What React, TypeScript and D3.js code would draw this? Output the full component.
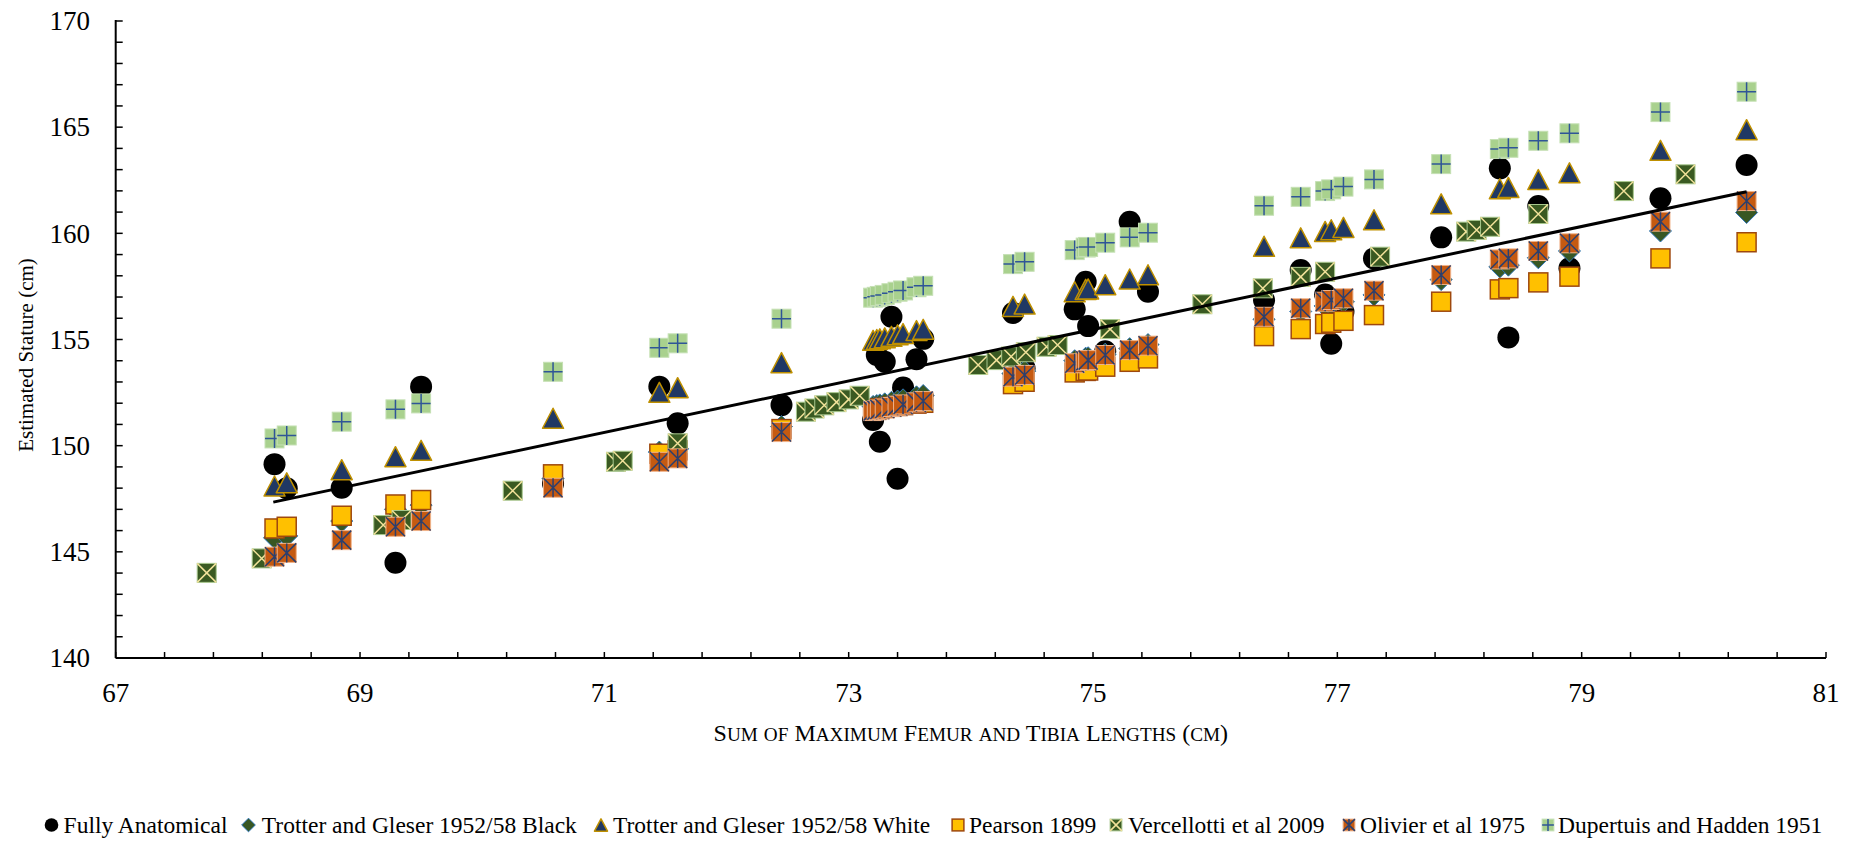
import React from 'react';
import * as d3 from 'd3';

// ---------- DATA ----------
// Sum of maximum femur and tibia lengths (cm) for each individual
const individualSum = [
  68.30, 68.40, 68.85, 69.29, 69.50, 70.58, 71.45, 71.60, 72.45,
  73.20, 73.23, 73.255, 73.295, 73.35, 73.40, 73.445, 73.555, 73.61,
  74.345, 74.44, 74.85, 74.94, 74.96, 75.10, 75.30, 75.45,
  76.40, 76.70, 76.90, 76.95, 77.05, 77.30, 77.85, 78.33, 78.40, 78.645, 78.90, 79.645, 80.35,
];
const fullyAnatomical = [
  149.13, 147.99, 148.02, 144.49, 152.78, 148.21, 152.78, 151.05, 151.91,
  151.21, 154.27, 150.18, 153.95, 156.07, 148.44, 152.74, 154.07, 155.03,
  156.25, 153.64, 156.42, 157.72, 155.63, 154.45, 160.55, 157.25,
  156.85, 158.27, 157.12, 154.80, 156.31, 158.82, 159.81, 163.06, 155.10, 161.29, 158.35, 161.65, 163.22,
];
const trotterBlack = [
  145.66, 145.75, 146.45, 147.00, 147.20, 148.45, 149.70, 149.85, 150.90,
  151.85, 151.89, 151.92, 151.97, 152.04, 152.10, 152.16, 152.30, 152.36,
  153.40, 153.50, 154.00, 154.12, 154.14, 154.31, 154.57, 154.76,
  155.95, 156.32, 156.58, 156.64, 156.78, 157.10, 157.82, 158.42, 158.50, 158.85, 159.17, 160.11, 160.98,
];
const trotterWhite = [
  148.10, 148.25, 148.87, 149.48, 149.78, 151.29, 152.51, 152.73, 153.91,
  154.96, 155.00, 155.03, 155.08, 155.15, 155.22, 155.28, 155.42, 155.48,
  156.56, 156.67, 157.25, 157.36, 157.38, 157.58, 157.85, 158.05,
  159.39, 159.79, 160.09, 160.17, 160.28, 160.64, 161.39, 162.10, 162.16, 162.53, 162.85, 163.91, 164.88,
];
const pearson = [
  146.10, 146.18, 146.70, 147.23, 147.44, 148.65, 149.62, 149.78, 150.78,
  151.70, 151.73, 151.75, 151.78, 151.83, 151.87, 151.91, 151.98, 152.02,
  152.90, 153.01, 153.45, 153.52, 153.54, 153.72, 153.95, 154.11,
  155.16, 155.49, 155.73, 155.79, 155.88, 156.15, 156.78, 157.36, 157.42, 157.69, 157.96, 158.82, 159.58,
];
const olivier = [
  144.77, 144.95, 145.55, 146.18, 146.45, 148.02, 149.24, 149.40, 150.64,
  151.63, 151.67, 151.70, 151.75, 151.82, 151.88, 151.94, 152.04, 152.10,
  153.25, 153.33, 153.88, 154.00, 154.03, 154.27, 154.50, 154.71,
  156.07, 156.47, 156.78, 156.86, 156.94, 157.30, 158.04, 158.77, 158.82, 159.17, 159.53, 160.55, 161.52,
];
const dupertuis = [
  150.34, 150.48, 151.13, 151.71, 151.99, 153.48, 154.61, 154.82, 155.98,
  156.97, 157.01, 157.05, 157.10, 157.18, 157.25, 157.31, 157.46, 157.53,
  158.55, 158.66, 159.21, 159.33, 159.36, 159.56, 159.81, 160.03,
  161.30, 161.72, 161.99, 162.07, 162.20, 162.54, 163.26, 163.97, 164.03, 164.36, 164.71, 165.71, 166.67,
];
// Vercellotti et al 2009 is plotted against its own length sums
const vercellottiSum = [
  67.745, 68.195, 69.19, 69.34, 70.25, 71.095, 71.15, 71.60,
  72.65, 72.72, 72.80, 72.90, 73.00, 73.09,
  74.06, 74.21, 74.33, 74.45, 74.62, 74.71, 75.14, 75.895,
  76.39, 76.70, 76.90, 77.35, 78.055, 78.14, 78.25, 78.645, 79.345, 79.85,
];
const vercellotti = [
  144.01, 144.69, 146.26, 146.50, 147.88, 149.24, 149.29, 150.11,
  151.60, 151.75, 151.90, 152.05, 152.18, 152.35,
  153.80, 154.03, 154.20, 154.40, 154.66, 154.74, 155.49, 156.66,
  157.41, 157.95, 158.19, 158.90, 160.08, 160.16, 160.31, 160.91, 161.99, 162.78,
];
// Linear trendline of the fully anatomical estimates (end points)
const trendSum = [68.29, 80.35];
const trendStature = [147.34, 161.96];

const xTickLabels = [67, 69, 71, 73, 75, 77, 79, 81];
const yTickLabels = [140, 145, 150, 155, 160, 165, 170];
const seriesNames = [
  'Fully Anatomical',
  'Trotter and Gleser 1952/58 Black',
  'Trotter and Gleser 1952/58 White',
  'Pearson 1899',
  'Vercellotti et al 2009',
  'Olivier et al 1975',
  'Dupertuis and Hadden 1951',
];
const xTitle = 'Sum of Maximum Femur and Tibia Lengths (cm)';
const yTitle = 'Estimated Stature (cm)';

// ---------- RENDER ----------
const FONT = '"Liberation Serif", serif';
type Kind = 'circle' | 'diamond' | 'triangle' | 'pearson' | 'verc' | 'olivier' | 'dup';
const kinds: Kind[] = ['circle', 'diamond', 'triangle', 'pearson', 'verc', 'olivier', 'dup'];

function Marker({ kind, cx, cy, s = 1 }: { kind: Kind; cx: number; cy: number; s?: number }) {
  const h = 9.5 * s;
  switch (kind) {
    case 'circle':
      return <circle cx={cx} cy={cy} r={11 * s} fill="#000" />;
    case 'diamond': {
      const d = 11 * s;
      return (
        <path d={`M${cx},${cy - d}L${cx + d},${cy}L${cx},${cy + d}L${cx - d},${cy}Z`}
          fill="#385723" stroke="#2E75B6" strokeWidth={1} />
      );
    }
    case 'triangle': {
      const w = 10.5 * s, t = 10 * s;
      return (
        <path d={`M${cx},${cy - t}L${cx + w},${cy + t}L${cx - w},${cy + t}Z`}
          fill="#203864" stroke="#BF9000" strokeWidth={1.5} strokeLinejoin="round" />
      );
    }
    case 'pearson':
      return <rect x={cx - h} y={cy - h} width={2 * h} height={2 * h} fill="#FFC000" stroke="#9E480E" strokeWidth={1.5} />;
    case 'verc':
      return (
        <g>
          <rect x={cx - h} y={cy - h} width={2 * h} height={2 * h} fill="#3A5A22" stroke="#A9C88E" strokeWidth={1} />
          <path d={`M${cx - h},${cy - h}L${cx + h},${cy + h}M${cx + h},${cy - h}L${cx - h},${cy + h}`}
            stroke="#F2E29A" strokeWidth={1.5} />
        </g>
      );
    case 'olivier':
      return (
        <g>
          <rect x={cx - h} y={cy - h} width={2 * h} height={2 * h} fill="#C55A11" stroke="#F0B38A" strokeWidth={1} />
          <path d={`M${cx - h},${cy - h}L${cx + h},${cy + h}M${cx + h},${cy - h}L${cx - h},${cy + h}M${cx},${cy - h}L${cx},${cy + h}`}
            stroke="#2B3F6E" strokeWidth={1.5} />
        </g>
      );
    case 'dup':
      return (
        <g>
          <rect x={cx - h} y={cy - h} width={2 * h} height={2 * h} fill="#A9D18E" stroke="#C5E0B4" strokeWidth={1} />
          <path d={`M${cx - h},${cy}L${cx + h},${cy}M${cx},${cy - h}L${cx},${cy + h}`}
            stroke="#2F5597" strokeWidth={1.5} />
        </g>
      );
  }
  return null;
}

// Word-style small caps: capitals at full size, lower-case letters as capitals at 80%
function SmallCaps({ text, size }: { text: string; size: number }) {
  const runs: { t: string; small: boolean }[] = [];
  for (const ch of text) {
    const small = ch !== ch.toUpperCase();
    const last = runs[runs.length - 1];
    if (last && last.small === small) last.t += ch;
    else runs.push({ t: ch, small });
  }
  return (
    <>
      {runs.map((r, i) => (
        <tspan key={i} fontSize={r.small ? size * 0.8 : size}>{r.small ? r.t.toUpperCase() : r.t}</tspan>
      ))}
    </>
  );
}

export default function App() {
  const x = d3.scaleLinear().domain([67, 81]).range([115.7, 1826]);
  const y = d3.scaleLinear().domain([140, 170]).range([658, 21]);

  const xMinor = d3.range(0, 36).map((i) => 67 + i * 0.4);
  const yMinor = d3.range(140, 171, 1);

  const seriesVals = [fullyAnatomical, trotterBlack, trotterWhite, pearson, null, olivier, dupertuis];

  const line = d3.line<number>().x((d, i) => x(trendSum[i])).y((d) => y(d));

  const legendMarkX = [51.5, 248.5, 601, 958, 1116, 1349, 1548];
  const legendTextX = [63.6, 261.8, 613, 969, 1128, 1360, 1558];
  const legendY = 825;

  return (
    <svg width={1863} height={842} style={{ position: 'absolute', left: 0, top: 0, background: '#fff' }}>
      <rect width={1863} height={842} fill="#fff" />
      {/* series */}
      {kinds.map((k, si) => {
        if (k === 'verc') {
          return (
            <g key={k}>
              {vercellottiSum.map((v, i) => (
                <Marker key={i} kind={k} cx={x(v)} cy={y(vercellotti[i])} />
              ))}
            </g>
          );
        }
        const vals = seriesVals[si] as number[];
        return (
          <g key={k}>
            {individualSum.map((v, i) => (
              <Marker key={i} kind={k} cx={x(v)} cy={y(vals[i])} />
            ))}
          </g>
        );
      })}
      {/* trendline */}
      <path d={line(trendStature) || ''} fill="none" stroke="#000" strokeWidth={3} />

      {/* axes */}
      <line x1={x(67)} x2={x(67)} y1={y(170) - 1} y2={y(140)} stroke="#000" strokeWidth={2} />
      <line x1={x(67)} x2={x(81)} y1={y(140)} y2={y(140)} stroke="#000" strokeWidth={2} />
      {yMinor.map((v) => (
        <line key={v} x1={x(67)} x2={x(67) + 7} y1={y(v)} y2={y(v)} stroke="#000" strokeWidth={1.5} />
      ))}
      {xMinor.map((v, i) => (
        <line key={i} x1={x(v)} x2={x(v)} y1={y(140)} y2={y(140) - 6} stroke="#000" strokeWidth={1.5} />
      ))}
      {yTickLabels.map((v) => (
        <text key={v} x={90} y={y(v)} dy="0.34em" textAnchor="end" fontSize={27} fill="#000"
          style={{ fontFamily: FONT }}>{v}</text>
      ))}
      {xTickLabels.map((v) => (
        <text key={v} x={x(v)} y={702} textAnchor="middle" fontSize={27} fill="#000"
          style={{ fontFamily: FONT }}>{v}</text>
      ))}
      <text x={(x(67) + x(81)) / 2} y={741} textAnchor="middle" fontSize={24}
        style={{ fontFamily: FONT }} fill="#000"><SmallCaps text={xTitle} size={24} /></text>
      <text transform={`translate(33,355) rotate(-90)`} textAnchor="middle" fontSize={21} fill="#000"
        style={{ fontFamily: FONT }}>{yTitle}</text>

      {/* legend */}
      {seriesNames.map((n, i) => (
        <g key={n}>
          <Marker kind={kinds[i]} cx={legendMarkX[i]} cy={legendY} s={0.62} />
          <text x={legendTextX[i]} y={legendY} dy="0.34em" fontSize={23.5} fill="#000"
            style={{ fontFamily: FONT }}>{n}</text>
        </g>
      ))}
    </svg>
  );
}
